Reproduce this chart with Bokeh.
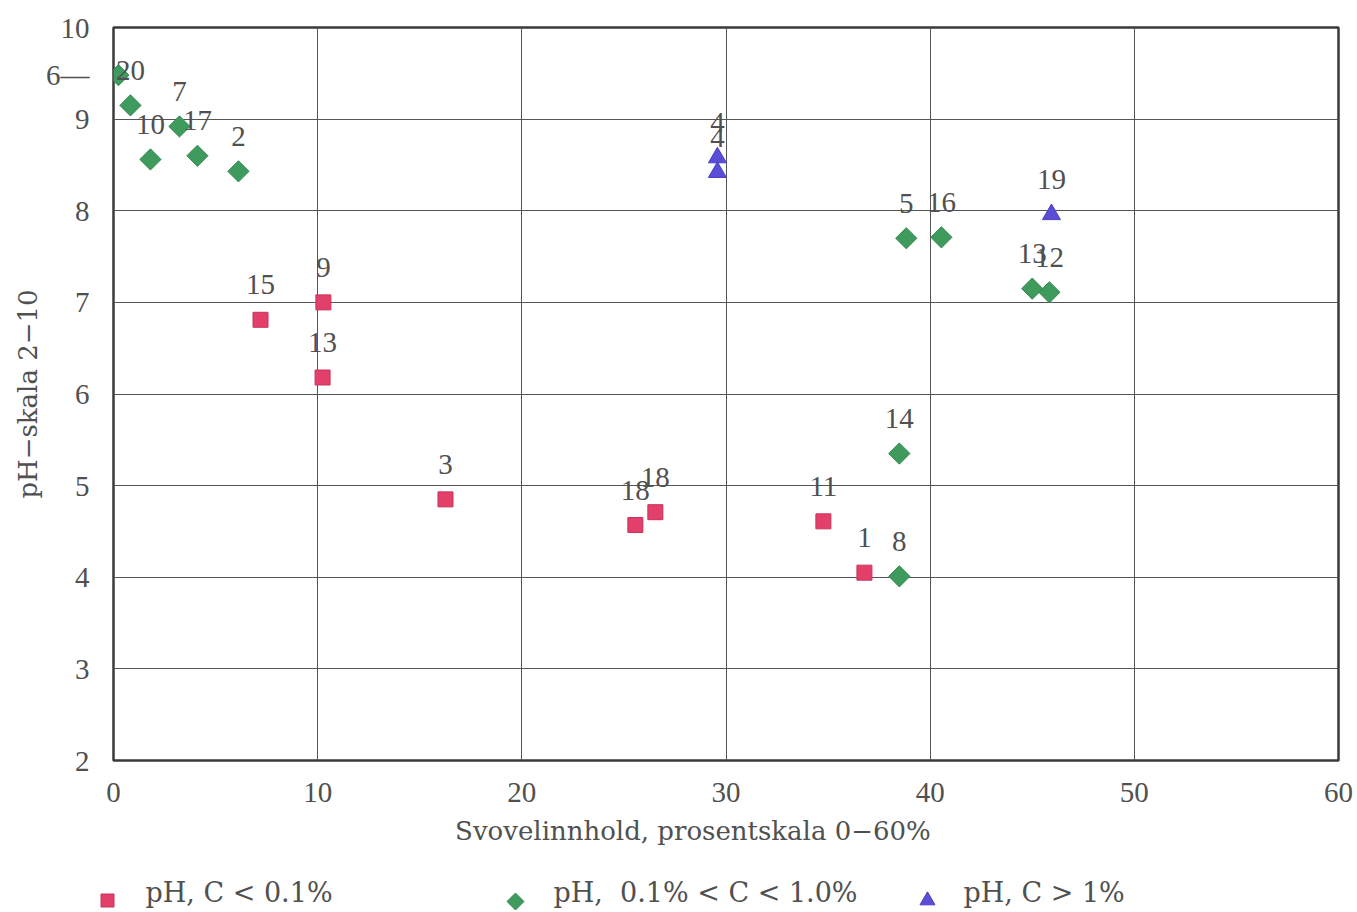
import math
from bokeh.plotting import figure
from bokeh.models import (ColumnDataSource, LabelSet, Label, Range1d, FixedTicker)
from bokeh.layouts import column
from bokeh.embed import file_html
from bokeh.resources import INLINE

# Samples with C < 0.1 %
red_x = [7.2, 10.28, 10.24, 16.26, 25.56, 26.54, 34.77, 36.78]
red_y = [6.81, 7.0, 6.18, 4.85, 4.57, 4.71, 4.61, 4.05]
red_lab = ["15", "9", "13", "3", "18", "18", "11", "1"]

# Samples with 0.1 % < C < 1.0 %
green_x = [0.24, 0.83, 3.23, 1.81, 4.11, 6.12, 38.83, 40.55, 45.0, 45.84, 38.49, 38.49]
green_y = [9.48, 9.15, 8.92, 8.56, 8.60, 8.43, 7.70, 7.71, 7.15, 7.11, 5.35, 4.01]
green_lab = ["6", "20", "7", "10", "17", "2", "5", "16", "13", "12", "14", "8"]

# Samples with C > 1 %
blue_x = [29.58, 29.58, 45.94]
blue_y = [8.58, 8.42, 7.96]
blue_lab = ["4", "4", "19"]

x_ticks = [0, 10, 20, 30, 40, 50, 60]
y_ticks = [2, 3, 4, 5, 6, 7, 8, 9, 10]

legend_names = ["pH, C < 0.1%", "pH,\u00a0 0.1% < C < 1.0%", "pH, C > 1%"]

NUM_FONT = "Liberation Serif"
TEXT_FONT = "DejaVu Serif"
TXT = "#505050"
RED, GREEN, BLUE = "#e2406a", "#3f9a5e", "#5a4ed6"

p = figure(width=1357, height=860, output_backend="svg", toolbar_location=None,
           x_range=Range1d(0, 60), y_range=Range1d(2, 10))
p.min_border_left = 113
p.min_border_right = 19
p.min_border_top = 27
p.min_border_bottom = 100
p.background_fill_color = "white"
p.border_fill_color = "white"
p.outline_line_color = "#3a3a3a"
p.outline_line_width = 2.5

# the first green sample carries a hand-written tag at the left edge,
# shown as an extra y tick label
p.xaxis.ticker = FixedTicker(ticks=x_ticks)
p.yaxis.ticker = FixedTicker(ticks=y_ticks + [green_y[0]])
p.yaxis.major_label_overrides = {green_y[0]: green_lab[0] + "\u2014"}
p.xgrid.ticker = FixedTicker(ticks=x_ticks)
p.ygrid.ticker = FixedTicker(ticks=y_ticks)
for g in (p.xgrid, p.ygrid):
    g.grid_line_color = "#555555"
    g.grid_line_width = 1
    g.grid_line_alpha = 1

for ax in (p.xaxis, p.yaxis):
    ax.axis_line_color = None
    ax.major_tick_line_color = None
    ax.minor_tick_line_color = None
    ax.major_label_text_font = NUM_FONT
    ax.major_label_text_font_size = "29px"
    ax.major_label_text_color = TXT
    ax.axis_label_text_font = TEXT_FONT
    ax.axis_label_text_font_size = "26px"
    ax.axis_label_text_color = TXT
    ax.axis_label_text_font_style = "normal"

p.xaxis.major_label_standoff = 16
p.yaxis.major_label_standoff = 18
# trailing non-breaking spaces set the title slightly left of centre
p.xaxis.axis_label = "Svovelinnhold, prosentskala 0\u221260%" + "\u00a0" * 8
p.yaxis.axis_label = "pH\u2212skala 2\u221210"
p.xaxis.axis_label_standoff = 11
p.yaxis.axis_label_standoff = 0

red_src = ColumnDataSource(dict(x=red_x, y=red_y, lab=red_lab))
green_src = ColumnDataSource(dict(x=green_x[1:], y=green_y[1:], lab=green_lab[1:]))
green_all = ColumnDataSource(dict(x=green_x, y=green_y))
blue_src = ColumnDataSource(dict(x=blue_x, y=blue_y, lab=blue_lab))


def red_style(fig, src, size=15):
    return fig.scatter("x", "y", source=src, marker="square", size=size,
                       fill_color=RED, line_color="#c8325a", line_width=1)


def green_style(fig, src, size=15):
    return fig.scatter("x", "y", source=src, marker="square", size=size,
                       angle=math.pi / 4, fill_color=GREEN,
                       line_color="#358a50", line_width=1)


def blue_style(fig, src, size=18):
    return fig.scatter("x", "y", source=src, marker="triangle", size=size,
                       fill_color=BLUE, line_color="#4a3fc4", line_width=1)


red_style(p, red_src)
green_style(p, green_all)
blue_style(p, blue_src)

for src in (red_src, green_src, blue_src):
    p.add_layout(LabelSet(x="x", y="y", text="lab", source=src, y_offset=35,
                          text_align="center", text_baseline="middle",
                          text_font=NUM_FONT, text_font_size="29px", text_color=TXT))

# legend strip below the chart (pixel coordinates)
leg = figure(width=1357, height=52, output_backend="svg", toolbar_location=None,
             x_range=Range1d(0, 1357), y_range=Range1d(0, 52))
leg.frame_align = False
leg.min_border = 0
leg.axis.visible = False
leg.grid.visible = False
leg.outline_line_color = None
leg.background_fill_color = "white"
leg.border_fill_color = "white"

key_x = [107, 515, 927]
text_x = [145, 553, 963]
red_style(leg, ColumnDataSource(dict(x=[key_x[0]], y=[12])), size=13)
green_style(leg, ColumnDataSource(dict(x=[key_x[1]], y=[11])), size=12)
blue_style(leg, ColumnDataSource(dict(x=[key_x[2]], y=[12])), size=15)
for tx, name in zip(text_x, legend_names):
    leg.add_layout(Label(x=tx, y=20, text=name, text_align="left",
                         text_baseline="middle", text_font=TEXT_FONT,
                         text_font_size="27px", text_color=TXT))

layout = column(p, leg, spacing=0)
open("out.html", "w").write(file_html(layout, INLINE))
